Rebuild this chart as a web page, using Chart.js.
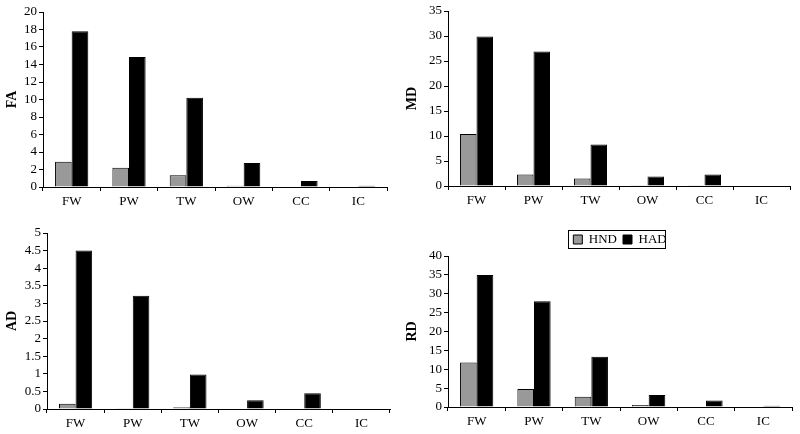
<!DOCTYPE html>
<html>
<head>
<meta charset="utf-8">
<script src="https://cdn.jsdelivr.net/npm/chart.js@4.4.0/dist/chart.umd.min.js"></script>
<style>
  body { margin: 0; background: #fff; }
  #wrap { position: relative; width: 800px; height: 434px; }
  .panel { position: absolute; width: 400px; height: 217px; }
</style>
</head>
<body>
<div id="wrap">
  <div class="panel" style="left:0;top:0"><canvas id="fa"></canvas></div>
  <div class="panel" style="left:400px;top:0"><canvas id="md"></canvas></div>
  <div class="panel" style="left:0;top:217px"><canvas id="ad"></canvas></div>
  <div class="panel" style="left:400px;top:217px"><canvas id="rd"></canvas></div>
</div>
<script>
const categories = ['FW', 'PW', 'TW', 'OW', 'CC', 'IC'];
const seriesNames = ['HND', 'HAD'];

const faHND = [2.9, 2.2, 1.35, 0.15, 0, 0];
const faHAD = [17.8, 14.85, 10.2, 2.75, 0.7, 0.15];
const mdHND = [10.4, 2.3, 1.5, 0.15, 0.15, 0];
const mdHAD = [29.9, 26.9, 8.3, 1.9, 2.3, 0];
const adHND = [0.15, 0.02, 0.05, 0, 0, 0];
const adHAD = [4.5, 3.22, 0.98, 0.25, 0.45, 0];
const rdHND = [11.8, 4.8, 2.7, 0.5, 0, 0];
const rdHAD = [35, 28, 13.3, 3.2, 1.7, 0.3];

// y-axis tick ranges: [max, step]
const faTicks = [20, 2];
const mdTicks = [35, 5];
const adTicks = [5, 0.5];
const rdTicks = [40, 5];

const FONT = "'Liberation Serif', 'Times New Roman', serif";

// draws a thin frame round the legend items
const legendFrame = {
  id: 'legendFrame',
  afterDraw(chart) {
    const lg = chart.legend;
    if (!lg || !lg.options.display || !lg.legendHitBoxes.length) return;
    const boxes = lg.legendHitBoxes;
    const first = boxes[0], last = boxes[boxes.length - 1];
    const ctx = chart.ctx;
    ctx.save();
    ctx.strokeStyle = '#000';
    ctx.lineWidth = 1;
    ctx.strokeRect(Math.round(first.left - 5) + 0.5, Math.round(first.top - 3) + 0.5,
      Math.round(last.left + last.width - first.left + 4), Math.round(first.height + 5));
    ctx.restore();
  }
};

function makePanel(id, title, hnd, had, ticks, dims, showLegend) {
  new Chart(document.getElementById(id), {
    type: 'bar',
    data: {
      labels: categories,
      datasets: [
        { label: seriesNames[0], data: hnd, backgroundColor: '#999999', borderColor: '#000', borderWidth: 1 },
        { label: seriesNames[1], data: had, backgroundColor: '#000000', borderColor: '#000', borderWidth: 1 }
      ]
    },
    options: {
      responsive: true,
      maintainAspectRatio: false,
      animation: false,
      datasets: { bar: { categoryPercentage: 0.58, barPercentage: 1.0 } },
      layout: { padding: { left: 0, top: dims.top, right: dims.right, bottom: 0 } },
      plugins: {
        legend: {
          display: !!showLegend,
          fullSize: false,
          labels: {
            color: '#000', boxWidth: 9, boxHeight: 9, padding: 6,
            font: { family: FONT, size: 13 }
          }
        },
        tooltip: { enabled: false }
      },
      scales: {
        x: {
          grid: { display: true, drawOnChartArea: false, drawTicks: true, tickLength: 4, color: '#000', offset: true },
          border: { color: '#000', width: 1 },
          ticks: { color: '#000', font: { family: FONT, size: 13 }, padding: 3, maxRotation: 0, autoSkip: false },
          afterFit(s) { s.height = dims.xh; }
        },
        y: {
          min: 0, max: ticks[0],
          grid: { display: true, drawOnChartArea: false, drawTicks: true, tickLength: 4, color: '#000' },
          border: { color: '#000', width: 1 },
          ticks: { stepSize: ticks[1], color: '#000', font: { family: FONT, size: 13 }, padding: 2,
                   autoSkip: false, callback: v => String(v) },
          title: { display: true, text: title, color: '#000', font: { family: FONT, size: 14, weight: 'bold' }, padding: 4 },
          afterFit(s) { s.width = dims.yw; }
        }
      }
    },
    plugins: showLegend ? [legendFrame] : []
  });
}

makePanel('fa', 'FA', faHND, faHAD, faTicks, { top: 12, right: 13, xh: 30, yw: 43 });
makePanel('md', 'MD', mdHND, mdHAD, mdTicks, { top: 11, right: 10, xh: 31, yw: 48 });
makePanel('ad', 'AD', adHND, adHAD, adTicks, { top: 16, right: 10, xh: 25, yw: 47 });
makePanel('rd', 'RD', rdHND, rdHAD, rdTicks, { top: 10, right: 8, xh: 27, yw: 48 }, true);
</script>
</body>
</html>
